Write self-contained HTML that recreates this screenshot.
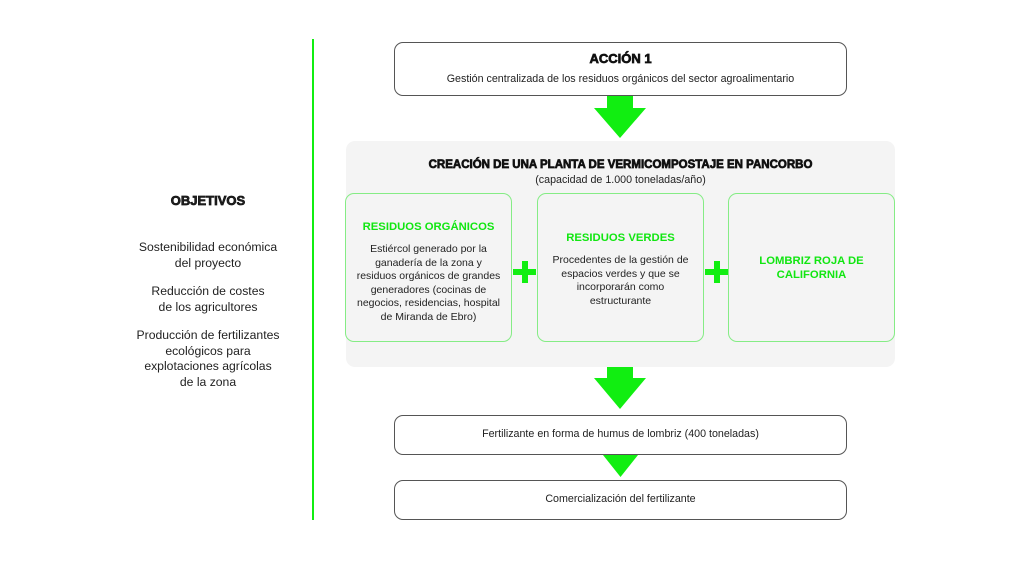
<!DOCTYPE html>
<html><head><meta charset="utf-8">
<style>
*{margin:0;padding:0;box-sizing:border-box}
html,body{width:1024px;height:576px;background:#fff;overflow:hidden}
body{position:relative;font-family:"Liberation Sans",Arial,sans-serif;color:#222}
.abs{position:absolute}
.vline{left:312px;top:39px;width:2.4px;height:481px;background:#11ee11}
.box{position:absolute;left:394px;width:453px;border:1.3px solid #555;border-radius:9px;background:#fff}
.t{position:absolute;left:0;width:100%;text-align:center;white-space:nowrap}
.heavy{font-weight:bold;color:#111;-webkit-text-stroke:0.7px #111}
.panel{left:346px;top:141px;width:549px;height:226px;background:#f4f4f4;border-radius:9px}
.gbox{position:absolute;top:193px;width:167px;height:149px;border:1.6px solid #85ec85;border-radius:9px;background:#f4f4f4}
.gt{position:absolute;left:0;width:100%;text-align:center;font-weight:bold;color:#11e611;font-size:11.3px;line-height:13.6px}
.gb{position:absolute;left:0;width:100%;text-align:center;font-size:10.5px;line-height:13.6px;color:#222}
.plus{position:absolute;width:23px;height:22px}
.plus:before{content:"";position:absolute;left:0;top:8px;width:23px;height:6px;background:#11ee11}
.plus:after{content:"";position:absolute;left:9px;top:0;width:5.5px;height:22px;background:#11ee11}
.left{position:absolute;left:108px;width:200px;text-align:center;font-size:12.2px;line-height:15.6px;color:#222}
</style></head><body>
<div class="abs vline"></div>

<!-- Objetivos -->
<div class="left heavy" style="top:193px;font-size:13px;line-height:16px">OBJETIVOS</div>
<div class="left" style="top:240px">Sostenibilidad económica<br>del proyecto</div>
<div class="left" style="top:284px">Reducción de costes<br>de los agricultores</div>
<div class="left" style="top:328px">Producción de fertilizantes<br>ecológicos para<br>explotaciones agrícolas<br>de la zona</div>

<!-- Accion 1 -->
<div class="box" style="top:42px;height:54px">
  <div class="t heavy" style="top:7.5px;font-size:13px;line-height:16px">ACCIÓN 1</div>
  <div class="t" style="top:28.5px;font-size:10.7px;line-height:14px">Gestión centralizada de los residuos orgánicos del sector agroalimentario</div>
</div>

<!-- arrows -->
<svg class="abs" style="left:0;top:0" width="1024" height="576">
  <polygon points="607,96 633,96 633,108 646,108 620,138 594,108 607,108" fill="#11ee11"/>
  <polygon points="607,367 633,367 633,378 646,378 620,409 594,378 607,378" fill="#11ee11"/>
  <polygon points="603,455 638,455 620.5,477" fill="#11ee11"/>
</svg>

<!-- panel -->
<div class="abs panel"></div>
<div class="t heavy" style="left:346px;width:549px;top:157.5px;font-size:11.5px;line-height:14px">CREACIÓN DE UNA PLANTA DE VERMICOMPOSTAJE EN PANCORBO</div>
<div class="t" style="left:346px;width:549px;top:173px;font-size:10.7px;line-height:14px">(capacidad de 1.000 toneladas/año)</div>

<div class="gbox" style="left:345px">
  <div class="gt" style="top:27px">RESIDUOS ORGÁNICOS</div>
  <div class="gb" style="top:49px">Estiércol generado por la<br>ganadería de la zona y<br>residuos orgánicos de grandes<br>generadores (cocinas de<br>negocios, residencias, hospital<br>de Miranda de Ebro)</div>
</div>
<div class="gbox" style="left:537px">
  <div class="gt" style="top:38px">RESIDUOS VERDES</div>
  <div class="gb" style="top:60px">Procedentes de la gestión de<br>espacios verdes y que se<br>incorporarán como<br>estructurante</div>
</div>
<div class="gbox" style="left:728px">
  <div class="gt" style="top:61px">LOMBRIZ ROJA DE<br>CALIFORNIA</div>
</div>

<div class="plus" style="left:513px;top:261px"></div>
<div class="plus" style="left:705px;top:261px"></div>

<!-- output boxes -->
<div class="box" style="top:415px;height:40px">
  <div class="t" style="top:11px;font-size:10.7px;line-height:14px">Fertilizante en forma de humus de lombriz (400 toneladas)</div>
</div>
<div class="box" style="top:480px;height:40px">
  <div class="t" style="top:11px;font-size:10.7px;line-height:14px">Comercialización del fertilizante</div>
</div>
</body></html>
